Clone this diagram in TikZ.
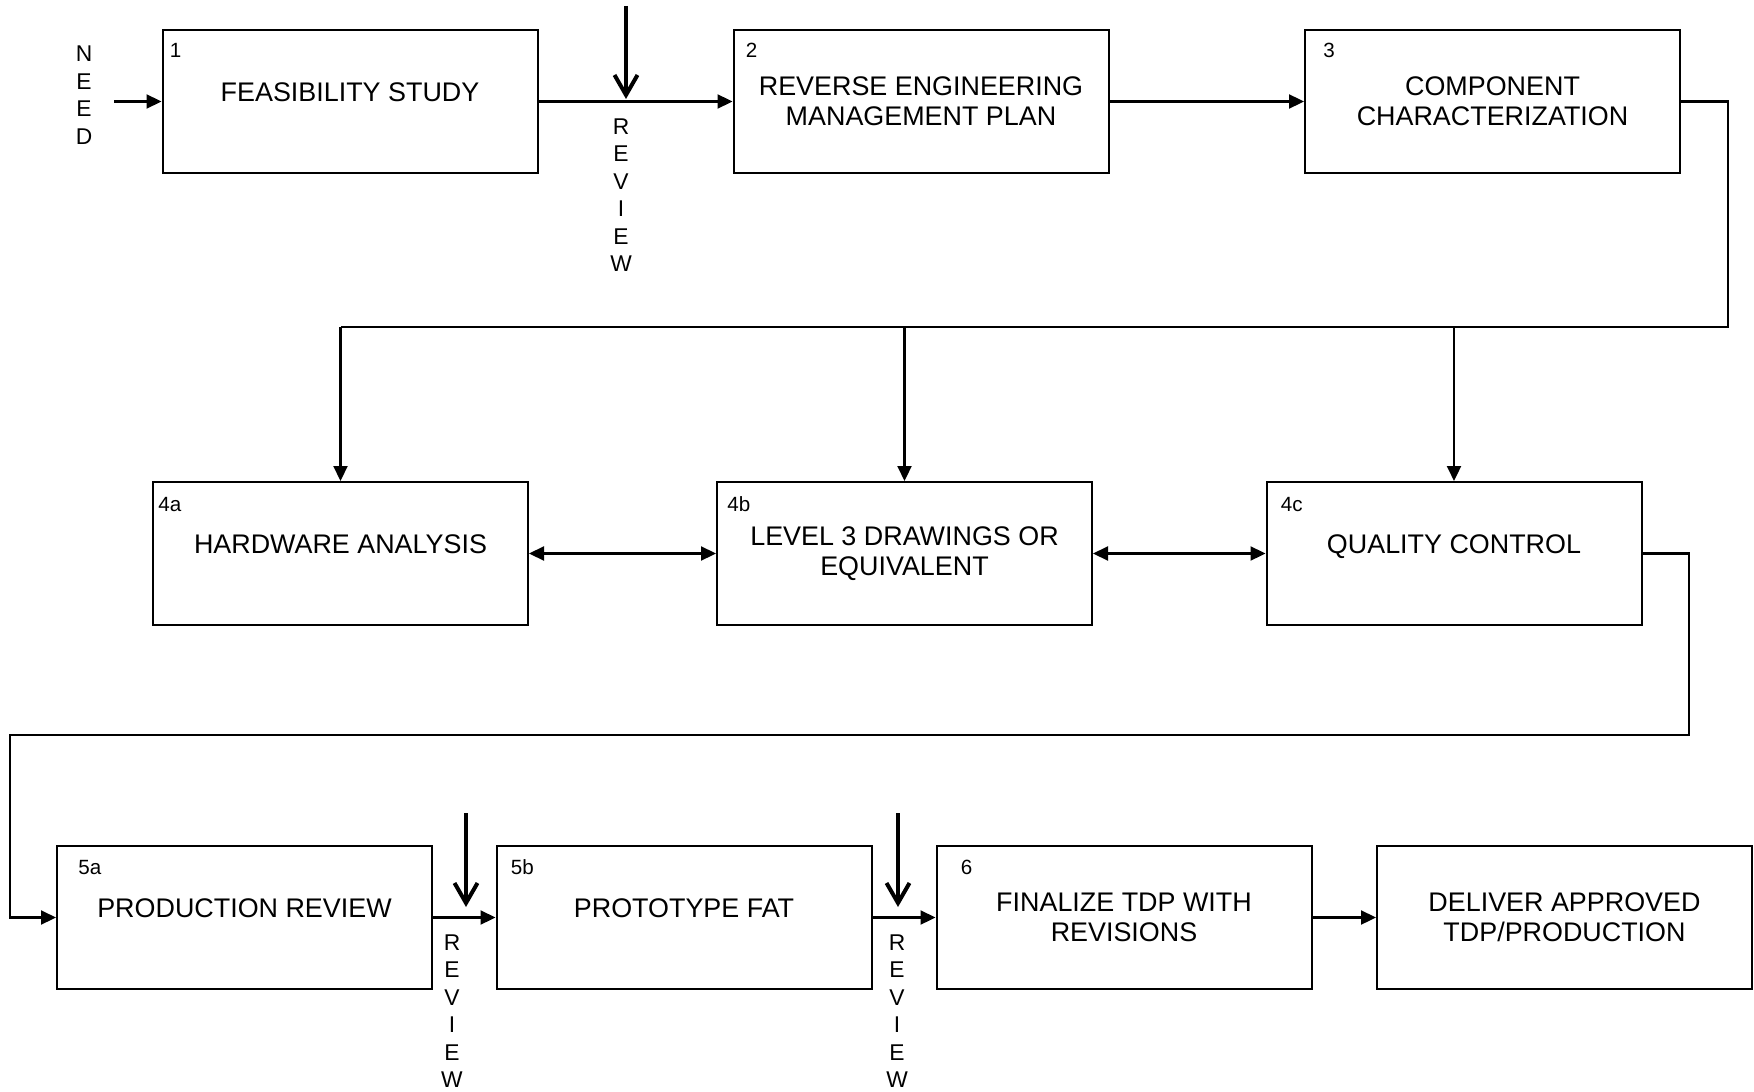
\documentclass[tikz,border=0pt]{standalone}
\usepackage{fontspec}
\setmainfont{Liberation Sans}
\usetikzlibrary{arrows.meta}
\newcommand\bxf{\fontsize{13.45pt}{14.8pt}\selectfont}
\newcommand\numf{\fontsize{10.3pt}{12pt}\selectfont}
\newcommand\letf{\fontsize{11.4pt}{13.75pt}\selectfont}
\begin{document}
\begin{tikzpicture}[x=0.5pt,y=-0.5pt,
  stagebox/.style={draw,line width=1pt,minimum width=187.5pt,minimum height=71.5pt,inner sep=0pt,align=center,font=\bxf},
  oneline/.style={text depth=9.3pt},
  numlbl/.style={anchor=base west,inner sep=0pt,font=\numf},
  vert/.style={align=center,inner sep=0pt,font=\letf},
  plain/.style={line width=1.1pt},
  arr/.style={line width=1.1pt,-{Triangle[length=7.5pt,width=7pt]}},
  darr/.style={line width=1.1pt,{Triangle[length=7.5pt,width=7pt]}-{Triangle[length=7.5pt,width=7pt]}},
  revarr/.style={line width=2pt,-{Straight Barb[length=10pt,width=11.5pt]}}
]
\useasboundingbox (0,0) rectangle (1754,1091);
\fill[white] (0,0) rectangle (1754,1091);

% row 1
\node[stagebox,oneline] (b1) at (350,101.5) {FEASIBILITY STUDY};
\node[stagebox] (b2) at (921,101.5) {REVERSE ENGINEERING\\MANAGEMENT PLAN};
\node[stagebox] (b3) at (1492.5,101.5) {COMPONENT\\CHARACTERIZATION};
% row 2
\node[stagebox,oneline] (b4a) at (340.5,553.5) {HARDWARE ANALYSIS};
\node[stagebox] (b4b) at (904.5,553.5) {LEVEL 3 DRAWINGS OR\\EQUIVALENT};
\node[stagebox,oneline] (b4c) at (1454,553.5) {QUALITY CONTROL};
% row 3
\node[stagebox,oneline] (b5a) at (244.5,917.5) {PRODUCTION REVIEW};
\node[stagebox,oneline] (b5b) at (684,917.5) {PROTOTYPE FAT};
\node[stagebox] (b6) at (1124,917.5) {FINALIZE TDP WITH\\REVISIONS};
\node[stagebox] (b7) at (1564.5,917.5) {DELIVER APPROVED\\TDP/PRODUCTION};

% numbers
\node[numlbl] (n1) at ([shift={(8,29)}]b1.north west) {1};
\node[numlbl] (n2) at ([shift={(13,29)}]b2.north west) {2};
\node[numlbl] (n3) at ([shift={(19,29)}]b3.north west) {3};
\node[numlbl] (n4a) at ([shift={(6,30)}]b4a.north west) {4a};
\node[numlbl] (n4b) at ([shift={(11,30)}]b4b.north west) {4b};
\node[numlbl] (n4c) at ([shift={(15,30)}]b4c.north west) {4c};
\node[numlbl] (n5a) at ([shift={(22,29)}]b5a.north west) {5a};
\node[numlbl] (n5b) at ([shift={(15,29)}]b5b.north west) {5b};
\node[numlbl] (n6) at ([shift={(25,29)}]b6.north west) {6};

% vertical labels
\node[vert] (need) at (84,95) {N\\E\\E\\D};
\node[vert] (rv1) at (621,195) {R\\E\\V\\I\\E\\W};
\node[vert] (rv2) at (452,1011) {R\\E\\V\\I\\E\\W};
\node[vert] (rv3) at (897,1011) {R\\E\\V\\I\\E\\W};

% coordinates
\coordinate (needS) at (114,101.5);
\coordinate (bus1) at (1728,327);
\coordinate (bus2r) at (1689,735);
\coordinate (bus2l) at (10,735);
\coordinate (r1s) at (626,6);
\coordinate (r1e) at (626,99);
\coordinate (r2s) at (466,813);
\coordinate (r2e) at (466,907);
\coordinate (r3s) at (898,813);
\coordinate (r3e) at (898,907);

% connectors
\draw[arr] (needS) -- (b1.west);
\draw[arr] (b1.east) -- (b2.west);
\draw[arr] (b2.east) -- (b3.west);
\draw[plain] (b3.east) -| (bus1) -- (b4a.north |- bus1);
\draw[arr] (b4a.north |- bus1) -- (b4a.north);
\draw[arr] (b4b.north |- bus1) -- (b4b.north);
\draw[arr] (b4c.north |- bus1) -- (b4c.north);
\draw[darr] (b4a.east) -- (b4b.west);
\draw[darr] (b4b.east) -- (b4c.west);
\draw[arr] (b4c.east) -| (bus2r) -- (bus2l) |- (b5a.west);
\draw[arr] (b5a.east) -- (b5b.west);
\draw[arr] (b5b.east) -- (b6.west);
\draw[arr] (b6.east) -- (b7.west);

% review arrows
\draw[revarr] (r1s) -- (r1e);
\draw[revarr] (r2s) -- (r2e);
\draw[revarr] (r3s) -- (r3e);
\end{tikzpicture}
\end{document}
